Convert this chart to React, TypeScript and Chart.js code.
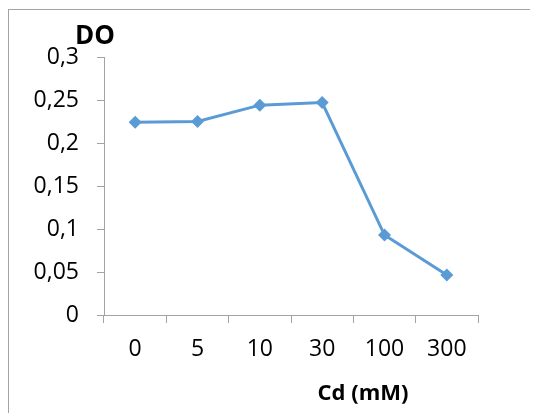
import React, { useEffect, useRef } from 'react';
import { Chart, registerables } from 'chart.js';

Chart.register(...registerables);

const categories: string[] = ['0', '5', '10', '30', '100', '300'];
const doValues: number[] = [0.224, 0.225, 0.244, 0.247, 0.093, 0.0465];
const yMin = 0;
const yMax = 0.3;
const yStep = 0.05;
const yTitle = 'DO';
const xTitle = 'Cd (mM)';

const FONT = '"Open Sans", "Liberation Sans", sans-serif';
const AXIS_GRAY = '#a3a3a3';

const titlePlugin = {
  id: 'excelTitles',
  afterDraw(chart: any) {
    const { ctx, chartArea } = chart;
    ctx.save();
    ctx.fillStyle = '#000000';
    ctx.textAlign = 'center';
    ctx.textBaseline = 'middle';
    ctx.font = `bold 26px ${FONT}`;
    ctx.fillText(yTitle, chartArea.left - 9, chartArea.top - 20);
    ctx.font = `bold 22px ${FONT}`;
    ctx.fillText(xTitle, chartArea.left + 259, chartArea.bottom + 79);
    ctx.restore();
  },
};

export default function App() {
  const canvasRef = useRef<HTMLCanvasElement | null>(null);

  useEffect(() => {
    document.documentElement.style.overflow = 'hidden';
    document.body.style.overflow = 'hidden';
    const canvas = canvasRef.current;
    if (!canvas) return;
    const chart = new Chart(canvas, {
      type: 'line',
      data: {
        labels: categories,
        datasets: [
          {
            label: yTitle,
            data: doValues,
            borderColor: '#5B9BD5',
            backgroundColor: '#5B9BD5',
            borderWidth: 3,
            pointStyle: 'rectRot',
            pointRadius: 6.5,
            pointBorderWidth: 0,
            pointBackgroundColor: '#5B9BD5',
            tension: 0,
          },
        ],
      },
      options: {
        responsive: false,
        animation: false,
        devicePixelRatio: 1,
        layout: { padding: { top: 47, right: 60, bottom: 0, left: 0 } },
        plugins: {
          legend: { display: false },
          title: { display: false },
          tooltip: { enabled: false },
        },
        scales: {
          x: {
            type: 'category',
            offset: true,
            afterFit: (scale: any) => {
              scale.height = 99;
            },
            grid: {
              offset: true,
              drawOnChartArea: false,
              drawTicks: true,
              tickLength: 8,
              color: AXIS_GRAY,
            },
            border: { display: true, color: AXIS_GRAY, width: 1 },
            ticks: {
              color: '#000000',
              padding: 13,
              maxRotation: 0,
              autoSkip: false,
              font: { family: FONT, size: 23 },
            },
          },
          y: {
            type: 'linear',
            min: yMin,
            max: yMax,
            afterFit: (scale: any) => {
              scale.width = 95;
            },
            grid: {
              drawOnChartArea: false,
              drawTicks: true,
              tickLength: 7,
              color: AXIS_GRAY,
            },
            border: { display: true, color: AXIS_GRAY, width: 1 },
            ticks: {
              stepSize: yStep,
              color: '#000000',
              padding: 18,
              font: { family: FONT, size: 23 },
              callback: (v: any) => String(Math.round(Number(v) * 100) / 100).replace('.', ','),
            },
          },
        },
      },
      plugins: [titlePlugin],
    });
    return () => chart.destroy();
  }, []);

  return (
    <div
      style={{
        position: 'relative',
        top: 1,
        width: 529,
        height: 404,
        borderLeft: '1px solid #a3a3a3',
        borderTop: '1px solid #a3a3a3',
      }}
    >
      <canvas ref={canvasRef} width={529} height={404} style={{ display: 'block' }} />
    </div>
  );
}
